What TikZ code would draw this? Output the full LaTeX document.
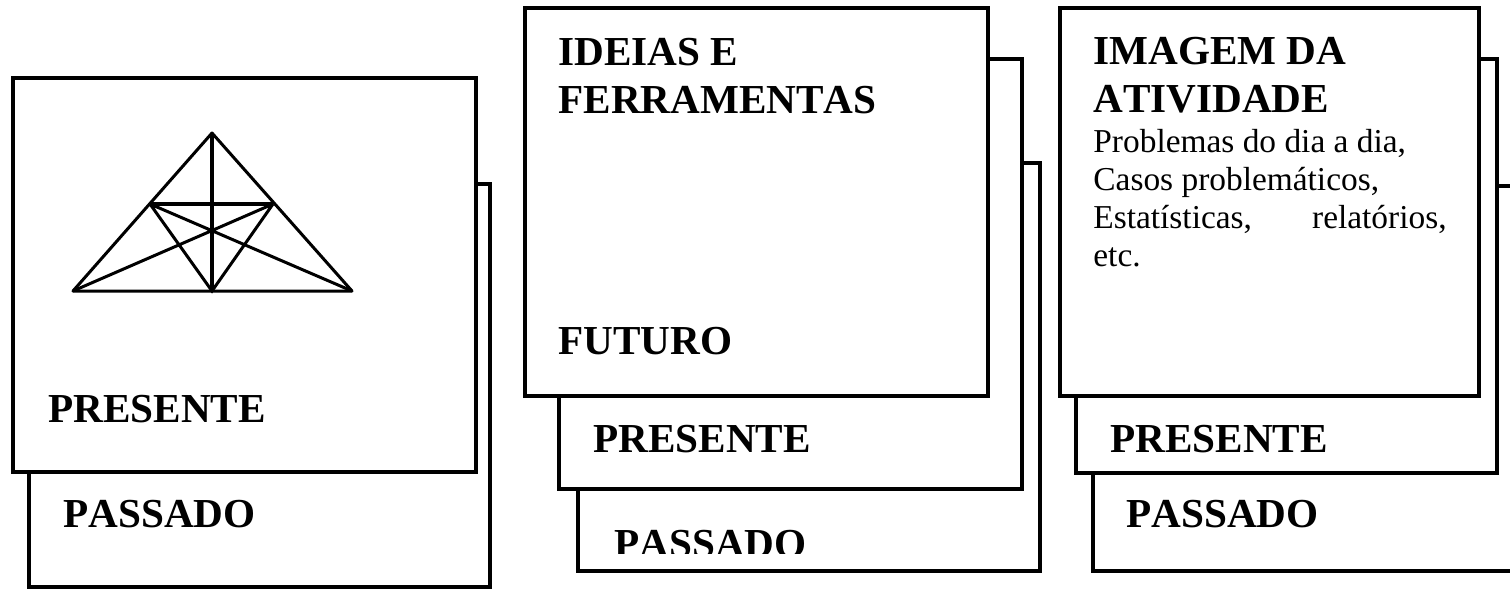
\documentclass[tikz,border=0pt]{standalone}
\usepackage{fontspec}
\setmainfont{Liberation Serif}[Kerning=Off]
\begin{document}
\begin{tikzpicture}[x=0.5pt,y=-0.5pt,
		card/.style={draw,fill=white,line width=1.8pt},
		big/.style={anchor=base west,inner sep=0pt,font=\fontsize{20.6}{24}\selectfont\bfseries},
		small/.style={anchor=base west,inner sep=0pt,font=\fontsize{16.7}{19}\selectfont}]
			\useasboundingbox (0,0) rectangle (1510,590);
			\clip (0,0) rectangle (1510,590);
			\fill [white] (0,0) rectangle (1510,590);
			% left stack
			\draw [card] (29,184) rectangle (490,587);
			\draw [card] (13,78) rectangle (476,472);
			\coordinate (apex) at (212,133);
			\coordinate (bl) at (73,291);
			\coordinate (br) at (352,291);
			\coordinate (mid) at (212,291);
			\coordinate (pl) at (150,204);
			\coordinate (pr) at (273,204);
			\draw [line width=1.5pt,line join=round] (bl) -- (apex) -- (br) -- cycle;
			\draw [line width=1.5pt] (bl) -- (pr) (br) -- (pl) (pl) -- (mid) -- (pr);
			\draw [line width=2pt] (apex) -- (mid) (pl) -- (pr);
			\node [big] (presA) at (48,422) {PRESENTE};
			\node [big] (passA) at (63,527) {PASSADO};
			% middle stack
			\draw [card] (578,163) rectangle (1040,571);
			\draw [card] (559,59) rectangle (1022,489);
			\draw [card] (525,8) rectangle (988,396);
			\node [big] (idea1) at (558,65) {IDEIAS E};
			\node [big] (idea2) at (558,113) {FERRAMENTAS};
			\node [big] (futB) at (558,354) {FUTURO};
			\node [big] (presB) at (593,452) {PRESENTE};
			\begin{scope}
				\clip (578,163) rectangle (1040,553);
				\node [big] (passB) at (614,557) {PASSADO};
			\end{scope}
			% right stack
			\draw [card] (1093,186) rectangle (1540,571);
			\draw [card] (1076,59) rectangle (1497,473);
			\draw [card] (1060,8) rectangle (1479,396);
			\node [big] (img1) at (1093,64) {IMAGEM DA};
			\node [big] (img2) at (1093,112) {ATIVIDADE};
			\node [small] (prob1) at (1093,152) {Problemas do dia a dia,};
			\node [small] (prob2) at (1093,190) {Casos problemáticos,};
			\node [small] (prob3) at (1093,228) {Estatísticas,};
			\node [small,anchor=base east] (prob4) at (1447,228) {relatórios,};
			\node [small] (prob5) at (1093,266) {etc.};
			\node [big] (presC) at (1110,452) {PRESENTE};
			\node [big] (passC) at (1126,527) {PASSADO};
		\end{tikzpicture}
\end{document}
